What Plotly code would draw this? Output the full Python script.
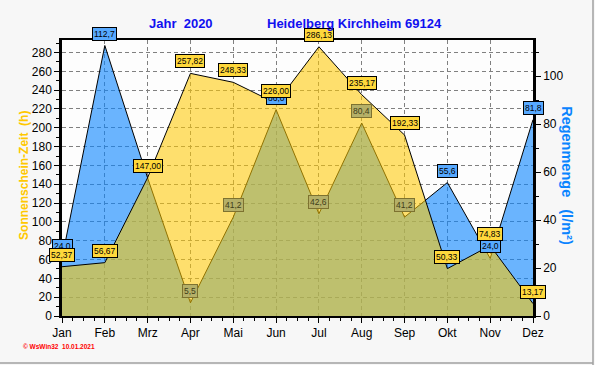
import plotly.graph_objects as go

# ---- data ----
months = ["Jan", "Feb", "Mrz", "Apr", "Mai", "Jun", "Jul", "Aug", "Sep", "Okt", "Nov", "Dez"]
sunshine_h = [52.37, 56.67, 147.00, 257.82, 248.33, 226.00, 286.13, 235.17, 192.33, 50.33, 74.83, 13.17]
rain_mm = [24.0, 112.7, 57.5, 5.5, 41.2, 86.0, 42.6, 80.4, 41.2, 55.6, 24.0, 81.8]
sun_ticks = list(range(0, 281, 20))
rain_ticks = list(range(0, 101, 20))
title_year = "Jahr\u00a0\u00a02020"
title_place = "Heidelberg Kirchheim 69124"
footer = "\u00a9 WsWin32\u00a0\u00a010.01.2021"

SUN_MAX = 293.3
RAIN_MAX = 115.0
FONT = "Liberation Sans, Arial, sans-serif"

xs = list(range(len(months)))

fig = go.Figure()
# rain area (drawn first, right axis)
fig.add_trace(go.Scatter(
    x=xs, y=rain_mm, yaxis="y", mode="lines", fill="tozeroy",
    fillcolor="rgba(8,132,255,0.6)", line=dict(color="black", width=1),
    hoverinfo="skip", showlegend=False))
# sunshine area (drawn on top, left axis, semi-transparent)
fig.add_trace(go.Scatter(
    x=xs, y=sunshine_h, yaxis="y2", mode="lines", fill="tozeroy",
    fillcolor="rgba(255,200,0,0.57)", line=dict(color="black", width=1),
    hoverinfo="skip", showlegend=False))

def fmt(v, d):
    return f"{v:.{d}f}".replace(".", ",")

annotations = []
# rain labels (underneath)
for i, (r, s) in enumerate(zip(rain_mm, sunshine_h)):
    under_yellow = r * SUN_MAX / RAIN_MAX < s - 20
    if under_yellow:
        bg, bd, fc = "#B5B068", "#7D7230", "#3E3E18"
    else:
        bg, bd, fc = "#57A9FF", "black", "black"
    annotations.append(dict(
        x=i, y=r, xref="x", yref="y", text=fmt(r, 1), showarrow=False,
        yshift=12, bgcolor=bg, bordercolor=bd, borderwidth=1, borderpad=1,
        font=dict(family=FONT, size=8.5, color=fc)))
# sunshine labels (on top)
for i, s in enumerate(sunshine_h):
    annotations.append(dict(
        x=i, y=s, xref="x", yref="y2", text=fmt(s, 2), showarrow=False,
        yshift=12, bgcolor="#FFD83C", bordercolor="black", borderwidth=1, borderpad=1,
        font=dict(family=FONT, size=8.5, color="black")))

# titles / texts
annotations += [
    dict(x=0.2537, y=1.058, xref="paper", yref="paper", text=f"<b>{title_year}</b>",
         showarrow=False, xanchor="center", yanchor="middle",
         font=dict(family=FONT, size=13, color="#1010F0")),
    dict(x=0.621, y=1.058, xref="paper", yref="paper", text=f"<b>{title_place}</b>",
         showarrow=False, xanchor="center", yanchor="middle",
         font=dict(family=FONT, size=13, color="#1010F0")),
    dict(x=-0.0807, y=0.511, xref="paper", yref="paper",
         text="<b>Sonnenschein-Zeit\u00a0\u00a0(h)</b>", textangle=-90,
         showarrow=False, xanchor="center", yanchor="middle",
         font=dict(family=FONT, size=12, color="#FFC800")),
    dict(x=1.072, y=0.507, xref="paper", yref="paper",
         text="<b>Regenmenge\u00a0\u00a0\u00a0(l/m\u00b2)</b>", textangle=90,
         showarrow=False, xanchor="center", yanchor="middle",
         font=dict(family=FONT, size=14.5, color="#0A84FF")),
    dict(x=-0.087, y=-0.112, xref="paper", yref="paper", text=f"<b>{footer}</b>",
         showarrow=False, xanchor="left", yanchor="middle",
         font=dict(family=FONT, size=6.5, color="#FF0000")),
]

fig.update_layout(
    width=595, height=365,
    margin=dict(l=62, r=62, t=40, b=49),
    paper_bgcolor="#F7F7F7", plot_bgcolor="#FDFDFD",
    font=dict(family=FONT, size=12, color="black"),
    showlegend=False,
    annotations=annotations,
    xaxis=dict(
        range=[0, len(months) - 1], tickvals=xs, ticktext=months,
        showline=True, linecolor="black", linewidth=1.5, mirror=True,
        ticks="outside", ticklen=5, tickcolor="black",
        showgrid=True, gridcolor="#808080", griddash="4px,3px", gridwidth=1,
        minor=dict(dtick=0.25, ticks="outside", ticklen=3, tickcolor="black", showgrid=False),
        zeroline=False, tickfont=dict(size=12), layer="above traces"),
    yaxis=dict(
        range=[0, RAIN_MAX], side="right", tickvals=rain_ticks,
        showline=True, linecolor="black", linewidth=2.5,
        ticks="outside", ticklen=5, tickcolor="black",
        minor=dict(dtick=10, ticks="outside", ticklen=3, tickcolor="black", showgrid=False),
        showgrid=False, zeroline=False, tickfont=dict(size=12), layer="above traces"),
    yaxis2=dict(
        range=[0, SUN_MAX], side="left", overlaying="y", anchor="x", tickvals=sun_ticks,
        showline=True, linecolor="black", linewidth=2.5,
        ticks="outside", ticklen=5, tickcolor="black",
        minor=dict(dtick=10, ticks="outside", ticklen=3, tickcolor="black", showgrid=False),
        showgrid=True, gridcolor="#808080", griddash="4px,3px", gridwidth=1,
        zeroline=False, tickfont=dict(size=12), layer="above traces"),
    shapes=[
        dict(type="line", xref="paper", yref="paper", x0=531 / 471, x1=531 / 471,
             y0=-49 / 276, y1=316 / 276, line=dict(color="#A0A0A0", width=1.5)),
        dict(type="line", xref="paper", yref="paper", x0=-62 / 471, x1=531 / 471,
             y0=-47 / 276, y1=-47 / 276, line=dict(color="#A0A0A0", width=1.5)),
    ],
)

fig.write_html(
    "out.html",
    config={"displayModeBar": False},
    post_script="document.body.style.margin='0';document.body.style.background='#F7F7F7';",
)
